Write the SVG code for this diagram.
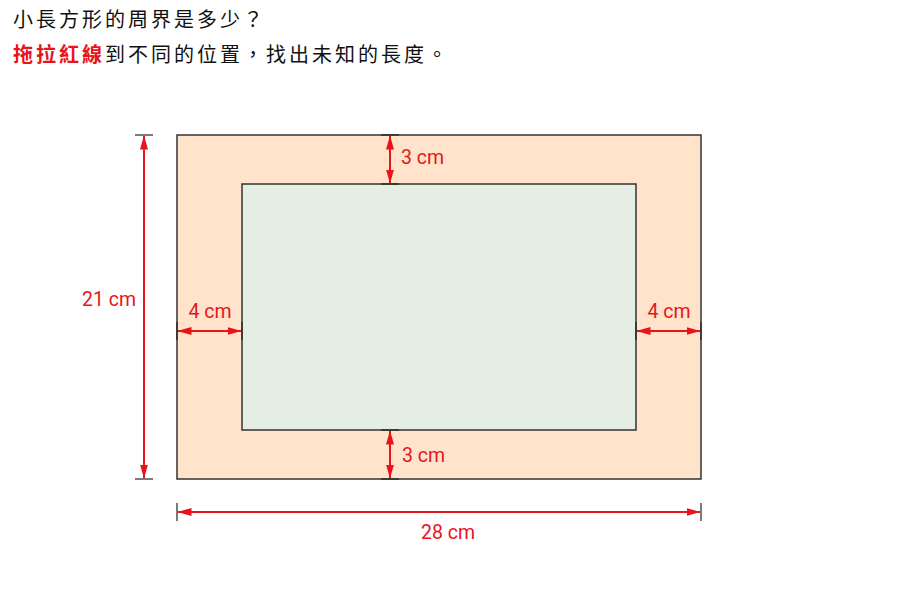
<svg xmlns="http://www.w3.org/2000/svg" width="900" height="600" viewBox="0 0 900 600">
<style>
.t{font-family:"Noto Sans CJK TC","Noto Sans CJK SC",sans-serif;font-size:20px;fill:#111;letter-spacing:3px}
.b{fill:#e8141b;font-weight:bold}
.lab{font-family:Roboto,"Liberation Sans",sans-serif;font-size:19.5px;fill:#e8141b}
.dim{stroke:#e8141b;stroke-width:2;fill:none}
.tick{stroke:#222;stroke-width:1.2}
</style>
<defs>
<marker id="ah" viewBox="0 0 14 8" refX="13.5" refY="4" markerWidth="14" markerHeight="8" markerUnits="userSpaceOnUse" orient="auto-start-reverse">
<path d="M0,0 L14,4 L0,8 Z" fill="#e8141b"/>
</marker>
</defs>
<rect width="900" height="600" fill="#fff"/>
<g id="title">
<text class="t" x="13" y="27">小長方形的周界是多少？</text>
<text class="t" x="13" y="62"><tspan class="b">拖拉紅線</tspan>到不同的位置，找出未知的長度。</text>
</g>
<g id="outer">
<rect x="177" y="135" width="524" height="344" fill="#ffe4cb" stroke="#333" stroke-width="1.5"/>
</g>
<g id="inner">
<rect x="242" y="184" width="394" height="246" fill="#e5eee2" stroke="#333" stroke-width="1.5"/>
</g>
<g id="connectors">
<line class="tick" x1="135" y1="135" x2="153" y2="135"/>
<line class="tick" x1="135" y1="479" x2="153" y2="479"/>
<line class="dim" x1="144" y1="136" x2="144" y2="478" marker-start="url(#ah)" marker-end="url(#ah)"/>
<line class="tick" x1="381" y1="135" x2="399" y2="135"/>
<line class="tick" x1="381" y1="184" x2="399" y2="184"/>
<line class="dim" x1="390" y1="136" x2="390" y2="183" marker-start="url(#ah)" marker-end="url(#ah)"/>
<line class="tick" x1="381" y1="430" x2="399" y2="430"/>
<line class="tick" x1="381" y1="479" x2="399" y2="479"/>
<line class="dim" x1="390" y1="431" x2="390" y2="478" marker-start="url(#ah)" marker-end="url(#ah)"/>
<line class="tick" x1="177" y1="322" x2="177" y2="340"/>
<line class="tick" x1="242" y1="322" x2="242" y2="340"/>
<line class="dim" x1="178" y1="331" x2="241" y2="331" marker-start="url(#ah)" marker-end="url(#ah)"/>
<line class="tick" x1="636" y1="322" x2="636" y2="340"/>
<line class="tick" x1="701" y1="322" x2="701" y2="340"/>
<line class="dim" x1="637" y1="331" x2="700" y2="331" marker-start="url(#ah)" marker-end="url(#ah)"/>
<line class="tick" x1="177" y1="503" x2="177" y2="521"/>
<line class="tick" x1="701" y1="503" x2="701" y2="521"/>
<line class="dim" x1="178" y1="512" x2="700" y2="512" marker-start="url(#ah)" marker-end="url(#ah)"/>
</g>
<g id="labels">
<text class="lab" x="136" y="306" text-anchor="end">21 cm</text>
<text class="lab" x="401" y="164">3 cm</text>
<text class="lab" x="402" y="462">3 cm</text>
<text class="lab" x="210" y="318" text-anchor="middle">4 cm</text>
<text class="lab" x="669" y="318" text-anchor="middle">4 cm</text>
<text class="lab" x="448" y="539" text-anchor="middle">28 cm</text>
</g>
</svg>
